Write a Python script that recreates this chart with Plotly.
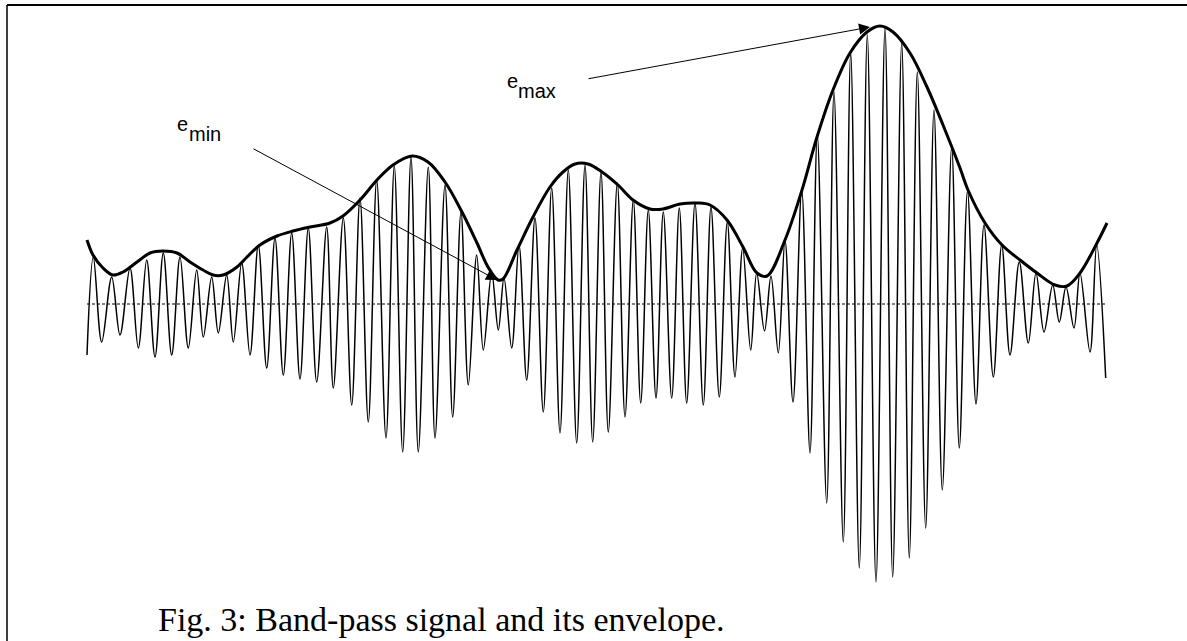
import plotly.graph_objects as go

# ---- data (time in samples, amplitude in arbitrary units) ----
sig_t = [0, 6.3, 14.7, 24.7, 33, 43, 51.3, 59.7, 68, 76.3, 84.7, 93, 101.3, 109.7, 116.3, 124.7,
         131.3, 139.7, 146.3, 154.7, 163, 171.3, 179.7, 188, 196.3, 204.7, 213, 221.3, 229.7, 239.7,
         246.3, 256.3, 264.7, 273, 281.3, 289.7, 299, 307.3, 315.7, 324, 331.3, 341.3, 348, 358,
         365.7, 374, 381.3, 389.7, 396.3, 404.7, 411.3, 417, 424.7, 432, 439.7, 448, 456.3, 464.7,
         473, 481.3, 489.7, 498, 505.7, 514, 521.3, 530.3, 538, 546.3, 553.7, 561.3, 569, 576.3,
         584.7, 592.3, 599.7, 608, 616.3, 624, 632.3, 640.3, 648, 655.7, 663.7, 669.7, 677.5, 684,
         691.3, 698, 706, 714.7, 723, 730.3, 739.7, 747, 756.3, 763.7, 772.3, 780.3, 789, 798,
         805.7, 814.7, 822.3, 830.3, 838.7, 847, 855.3, 864.7, 872.3, 880.5, 889, 897, 906.3, 914.7,
         923, 932.3, 941.3, 949, 957, 965.7, 972.3, 979, 987, 993, 1003, 1009.7, 1018.7]
sig_v = [-0.51, 0.47, -0.38, 0.27, -0.31, 0.36, -0.44, 0.44, -0.53, 0.51, -0.51, 0.47, -0.44, 0.34,
         -0.33, 0.27, -0.29, 0.29, -0.38, 0.41, -0.51, 0.59, -0.64, 0.66, -0.71, 0.71, -0.75, 0.76,
         -0.78, 0.77, -0.84, 0.86, -1.01, 1.06, -1.18, 1.24, -1.34, 1.38, -1.48, 1.47, -1.48, 1.37,
         -1.34, 1.19, -1.13, 0.92, -0.81, 0.49, -0.46, 0.31, -0.26, 0.26, -0.44, 0.59, -0.76, 0.86,
         -1.08, 1.16, -1.29, 1.34, -1.39, 1.39, -1.38, 1.32, -1.28, 1.21, -1.13, 1.04, -0.99, 0.94,
         -0.94, 0.92, -0.94, 0.96, -0.99, 1.01, -1.01, 0.97, -0.93, 0.82, -0.73, 0.56, -0.46, 0.31,
         -0.27, 0.28, -0.49, 0.64, -0.98, 1.14, -1.49, 1.69, -1.99, 2.12, -2.38, 2.51, -2.64, 2.69,
         -2.78, 2.76, -2.73, 2.61, -2.54, 2.32, -2.24, 1.94, -1.86, 1.57, -1.44, 1.13, -1.00, 0.79,
         -0.73, 0.59, -0.51, 0.42, -0.39, 0.31, -0.28, 0.19, -0.18, 0.17, -0.24, 0.31, -0.48, 0.59,
         -0.74]

env_t = [0, 6, 16, 26, 36, 50, 63, 76, 90, 103, 116, 126, 136, 150, 160, 173, 190, 206, 223, 243,
         256, 273, 290, 306, 325, 341, 358, 375, 390, 401, 411, 416, 430, 446, 463, 476, 488, 501,
         515, 531, 546, 563, 576, 593, 610, 623, 640, 656, 670, 680, 698, 715, 730, 746, 763, 780,
         793, 806, 823, 840, 856, 873, 881, 898, 915, 933, 950, 968, 980, 993, 1010, 1020]
env_v = [0.64, 0.49, 0.36, 0.29, 0.32, 0.42, 0.51, 0.53, 0.51, 0.42, 0.34, 0.29, 0.29, 0.37, 0.47,
         0.59, 0.68, 0.73, 0.77, 0.81, 0.88, 1.04, 1.24, 1.39, 1.48, 1.42, 1.22, 0.92, 0.61, 0.37,
         0.24, 0.25, 0.54, 0.87, 1.17, 1.32, 1.40, 1.40, 1.32, 1.19, 1.04, 0.95, 0.95, 1.00, 1.01,
         0.99, 0.84, 0.57, 0.31, 0.28, 0.64, 1.14, 1.67, 2.14, 2.51, 2.72, 2.78, 2.72, 2.51, 2.17,
         1.79, 1.36, 1.14, 0.81, 0.59, 0.44, 0.31, 0.19, 0.18, 0.31, 0.61, 0.81]

caption = "Fig. 3: Band-pass signal and its envelope."

# ---- layout helpers (pixel -> axis coordinates) ----
W, H = 1187, 641
X0_PX, Y0_PX, Y_SCALE = 87, 304, 100.0


def px_x(px):
    return px - X0_PX


def px_y(py):
    return (Y0_PX - py) / Y_SCALE


fig = go.Figure()
fig.add_trace(go.Scatter(x=sig_t, y=sig_v, mode="lines",
                         line=dict(color="black", width=1.5, shape="spline", smoothing=1.0),
                         hoverinfo="skip", showlegend=False))
fig.add_trace(go.Scatter(x=env_t, y=env_v, mode="lines",
                         line=dict(color="black", width=3, shape="spline", smoothing=1.0),
                         hoverinfo="skip", showlegend=False))

shapes = [
    dict(type="line", xref="x", yref="y", x0=sig_t[0], x1=sig_t[-1], y0=0, y1=0,
         line=dict(color="black", width=1, dash="3px,2px")),
    dict(type="line", xref="paper", yref="paper", x0=7 / W, x1=1.0, y0=1 - 5 / H, y1=1 - 5 / H,
         line=dict(color="black", width=2)),
    dict(type="line", xref="paper", yref="paper", x0=7 / W, x1=7 / W, y0=1 - 5 / H, y1=0,
         line=dict(color="black", width=1.5)),
]

lab_font = dict(family="Liberation Sans, Arial, sans-serif", size=20, color="black")
annotations = [
    # arrows
    dict(x=px_x(497), y=px_y(280), ax=px_x(252), ay=px_y(148), xref="x", yref="y",
         axref="x", ayref="y", text="", showarrow=True, arrowhead=2, arrowsize=2.2,
         arrowwidth=1, arrowcolor="black", standoff=0),
    dict(x=px_x(870), y=px_y(27), ax=px_x(587), ay=px_y(79), xref="x", yref="y",
         axref="x", ayref="y", text="", showarrow=True, arrowhead=2, arrowsize=2.2,
         arrowwidth=1, arrowcolor="black", standoff=0),
    # labels
    dict(x=px_x(505), y=px_y(81), text="e", showarrow=False, xanchor="left", yanchor="middle",
         font=lab_font),
    dict(x=px_x(516), y=px_y(91), text="max", showarrow=False, xanchor="left", yanchor="middle",
         font=lab_font),
    dict(x=px_x(175), y=px_y(124), text="e", showarrow=False, xanchor="left", yanchor="middle",
         font=lab_font),
    dict(x=px_x(187), y=px_y(134), text="min", showarrow=False, xanchor="left", yanchor="middle",
         font=lab_font),
    # caption
    dict(x=441 / W, y=1 - 619 / H, xref="paper", yref="paper", text=caption, showarrow=False,
         xanchor="center", yanchor="middle",
         font=dict(family="Liberation Serif, Times New Roman, serif", size=34, color="black")),
]

fig.update_layout(
    width=W, height=H,
    margin=dict(l=0, r=0, t=0, b=0),
    paper_bgcolor="white", plot_bgcolor="white",
    xaxis=dict(range=[px_x(0), px_x(W)], visible=False, fixedrange=True),
    yaxis=dict(range=[px_y(H), px_y(0)], visible=False, fixedrange=True),
    shapes=shapes, annotations=annotations,
    showlegend=False,
)

fig.write_html("out.html", config={"displayModeBar": False},
               post_script="document.body.style.margin='0';document.body.style.overflow='hidden';")
